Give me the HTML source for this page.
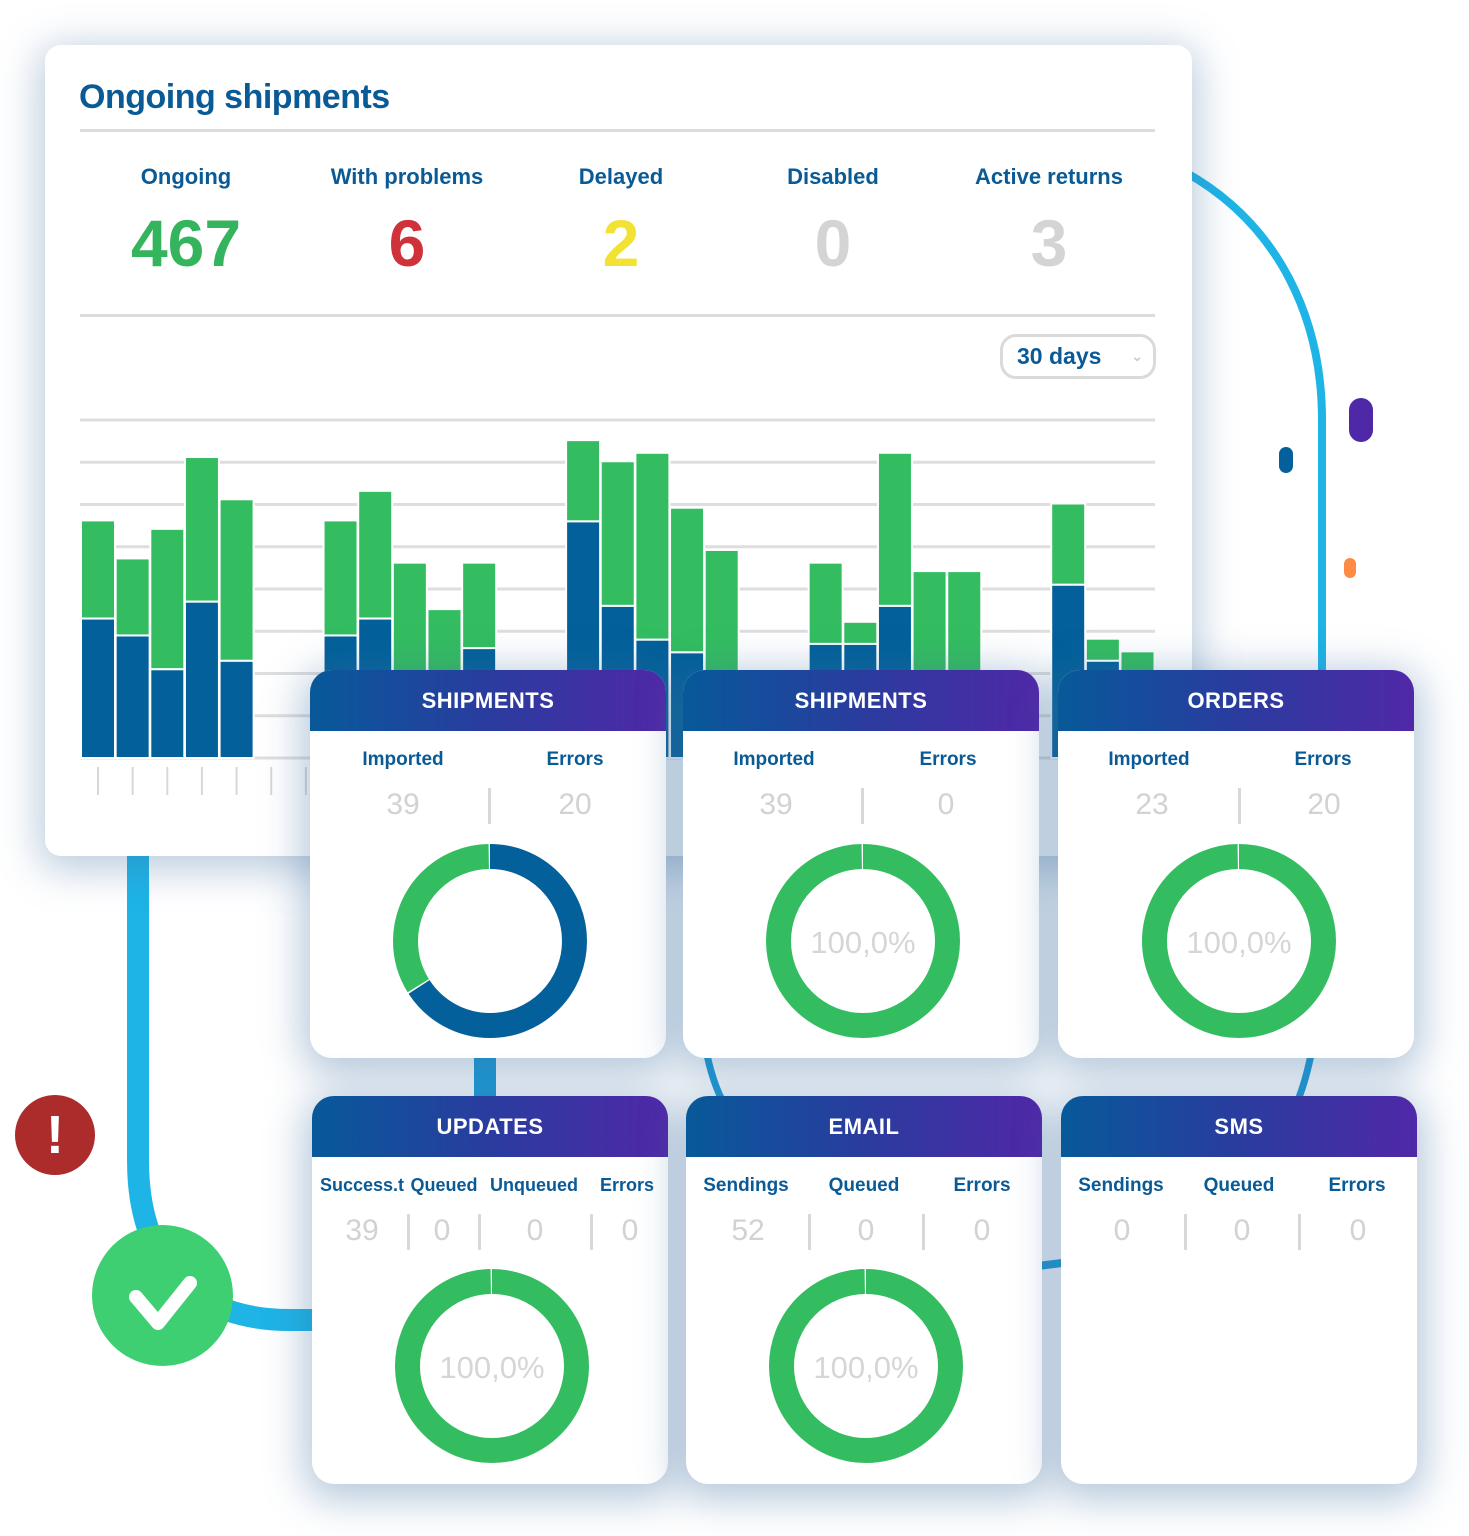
<!DOCTYPE html>
<html><head><meta charset="utf-8">
<style>
*{margin:0;padding:0;box-sizing:border-box}
body{width:1469px;height:1536px;background:#fff;position:relative;overflow:hidden;font-family:"Liberation Sans",sans-serif}
.abs{position:absolute}
.dash{left:45px;top:45px;width:1147px;height:811px;background:#fff;border-radius:16px;box-shadow:0 8px 40px 6px rgba(60,110,160,0.35)}
.title{left:79px;top:78px;font-size:34px;color:#0a5a96;font-weight:bold;letter-spacing:-0.5px}
.hr{height:3px;background:#dcdcdc}
.lab{font-size:22px;color:#0a5a96;text-align:center;width:220px;font-weight:bold}
.num{font-size:66px;font-weight:bold;text-align:center;width:220px}
.card{background:#fff;border-radius:22px;overflow:hidden;width:356px;height:388px;box-shadow:0 8px 40px 8px rgba(60,110,160,0.38)}
.hdr{height:61px;background:linear-gradient(90deg,#07599a,#2a3c9e 50%,#5028a8);color:#fff;font-size:22px;font-weight:bold;text-align:center;line-height:61px;letter-spacing:0.5px}
.cl{font-size:19px;color:#0a5a96;text-align:center;font-weight:bold}
.cn{font-size:30px;color:#d2d2d2;text-align:center}
.sep{width:3px;height:36px;background:#d8d8d8}
</style></head>
<body>
<svg class="abs" style="left:0;top:0" width="1469" height="1536">
<path d="M1185,172 C1280,225 1322,320 1322,420 L1322,680" fill="none" stroke="#1eb4e6" stroke-width="8"/>
<path d="M138,850 L138,1160 C138,1270 200,1320 290,1320 L320,1320" fill="none" stroke="#1eb4e6" stroke-width="22"/>
<rect x="474" y="1050" width="22" height="52" fill="#1a9ad6"/>
<path d="M706,1050 Q712,1080 722,1100" fill="none" stroke="#1a9ad6" stroke-width="7"/>
<path d="M1312,1050 Q1306,1080 1298,1100" fill="none" stroke="#1a9ad6" stroke-width="7"/>
<path d="M1038,1266 L1062,1263" fill="none" stroke="#1a9ad6" stroke-width="8"/>
<rect x="1349" y="398" width="24" height="44" rx="12" fill="#4e28a6"/>
<rect x="1279" y="447" width="14" height="26" rx="7" fill="#03609a"/>
<rect x="1344" y="558" width="12" height="20" rx="6" fill="#ff8a45"/>
</svg>
<div class="abs" style="left:15px;top:1095px;width:80px;height:80px;border-radius:50%;background:#ac2b2b;color:#fff;font-size:54px;font-weight:bold;text-align:center;line-height:80px">!</div>
<div class="abs" style="left:92px;top:1225px;width:141px;height:141px;border-radius:50%;background:#3ecf72">
<svg width="141" height="141"><path d="M44,72 L66,98 L98,58" fill="none" stroke="#fff" stroke-width="14" stroke-linecap="round" stroke-linejoin="round"/></svg></div>

<div class="abs dash"></div>
<div class="abs title">Ongoing shipments</div>
<div class="abs hr" style="left:80px;top:129px;width:1075px"></div>
<div class="abs lab" style="left:76px;top:164px">Ongoing</div>
<div class="abs num" style="left:76px;top:205px;color:#34b45c">467</div>
<div class="abs lab" style="left:297px;top:164px">With problems</div>
<div class="abs num" style="left:297px;top:205px;color:#d0323a">6</div>
<div class="abs lab" style="left:511px;top:164px">Delayed</div>
<div class="abs num" style="left:511px;top:205px;color:#f2e234">2</div>
<div class="abs lab" style="left:723px;top:164px">Disabled</div>
<div class="abs num" style="left:723px;top:205px;color:#d4d4d4">0</div>
<div class="abs lab" style="left:939px;top:164px">Active returns</div>
<div class="abs num" style="left:939px;top:205px;color:#d4d4d4">3</div>
<div class="abs hr" style="left:80px;top:314px;width:1075px"></div>
<div class="abs" style="left:1000px;top:334px;width:156px;height:45px;border:3px solid #dadada;border-radius:16px;font-size:23px;color:#0a5a96;font-weight:bold;line-height:39px;padding-left:14px">30 days<span style="position:absolute;right:10px;top:0;font-size:14px;color:#ccc">&#8964;</span></div>

<svg id="bars" class="abs" style="left:0;top:0" width="1200" height="860"></svg>

<script>
const slots=[0,1,2,3,4,7,8,9,10,11,14,15,16,17,18,21,22,23,24,25,28,29,30];
const blueVals=[33,29,21,37,23,29,33,15,12,26,56,36,28,25,10,27,27,36,10,10,41,23,10];
const totalVals=[56,47,54,71,61,56,63,46,35,46,75,70,72,59,49,46,32,72,44,44,60,28,25];
const gridTicks=[0,10,20,30,40,50,60,70,80];
const NS="http://www.w3.org/2000/svg";
const svg=document.getElementById('bars');
const base=758,unit=4.225;
function y(v){return base-v*unit;}
function x(s){return 82+s*34.65;}
gridTicks.forEach(t=>{
  const l=document.createElementNS(NS,'rect');
  
  
  l.setAttribute('x',80);l.setAttribute('y',y(t)-1.5);l.setAttribute('width',1075);l.setAttribute('height',3);l.setAttribute('fill','#dedede');
  svg.appendChild(l);
});
for(let s=0;s<=30;s++){
  const t=document.createElementNS(NS,'rect');
  
  
  t.setAttribute('x',x(s)+15);t.setAttribute('y',767);t.setAttribute('width',2);t.setAttribute('height',28);t.setAttribute('fill','#d8d8d8');
  svg.appendChild(t);
}
slots.forEach((s,i)=>{
  const bx=x(s);
  const g=document.createElementNS(NS,'rect');
  
  
  g.setAttribute('x',bx-1);g.setAttribute('y',y(totalVals[i])-1);g.setAttribute('width',34);g.setAttribute('height',y(blueVals[i])-y(totalVals[i])+1);
  g.setAttribute('fill','#33bd60');g.setAttribute('stroke','#fff');g.setAttribute('stroke-width','2');
  svg.appendChild(g);
  const b=document.createElementNS(NS,'rect');
  
  
  b.setAttribute('x',bx-1);b.setAttribute('y',y(blueVals[i]));b.setAttribute('width',34);b.setAttribute('height',base-y(blueVals[i]));
  b.setAttribute('fill','#03609a');b.setAttribute('stroke','#fff');b.setAttribute('stroke-width','2');
  svg.appendChild(b);
});
</script>

<!-- Cards -->
<div class="abs card" style="left:310px;top:670px">
 <div class="hdr">SHIPMENTS</div>
 <div class="abs cl" style="left:33px;top:79px;width:120px">Imported</div>
 <div class="abs cl" style="left:205px;top:79px;width:120px">Errors</div>
 <div class="abs cn" style="left:33px;top:118px;width:120px">39</div>
 <div class="abs cn" style="left:205px;top:118px;width:120px">20</div>
 <div class="abs sep" style="left:178px;top:118px"></div>
 <svg class="abs donut" style="left:82px;top:173px" width="196" height="196" data-vals="39,20"></svg>
</div>
<div class="abs card" style="left:683px;top:670px">
 <div class="hdr">SHIPMENTS</div>
 <div class="abs cl" style="left:31px;top:79px;width:120px">Imported</div>
 <div class="abs cl" style="left:205px;top:79px;width:120px">Errors</div>
 <div class="abs cn" style="left:33px;top:118px;width:120px">39</div>
 <div class="abs cn" style="left:203px;top:118px;width:120px">0</div>
 <div class="abs sep" style="left:178px;top:118px"></div>
 <svg class="abs donut" style="left:82px;top:173px" width="196" height="196" data-vals="39,0"></svg>
</div>
<div class="abs card" style="left:1058px;top:670px">
 <div class="hdr">ORDERS</div>
 <div class="abs cl" style="left:31px;top:79px;width:120px">Imported</div>
 <div class="abs cl" style="left:205px;top:79px;width:120px">Errors</div>
 <div class="abs cn" style="left:34px;top:118px;width:120px">23</div>
 <div class="abs cn" style="left:206px;top:118px;width:120px">20</div>
 <div class="abs sep" style="left:180px;top:118px"></div>
 <svg class="abs donut" style="left:83px;top:173px" width="196" height="196" data-vals="23,0"></svg>
</div>
<div class="abs card" style="left:312px;top:1096px">
 <div class="hdr">UPDATES</div>
 <div class="abs cl" style="left:6px;top:79px;width:88px;font-size:18px">Success.t</div>
 <div class="abs cl" style="left:94px;top:79px;width:76px;font-size:18px">Queued</div>
 <div class="abs cl" style="left:172px;top:79px;width:100px;font-size:18px">Unqueued</div>
 <div class="abs cl" style="left:280px;top:79px;width:70px;font-size:18px">Errors</div>
 <div class="abs cn" style="left:20px;top:118px;width:60px">39</div>
 <div class="abs cn" style="left:100px;top:118px;width:60px">0</div>
 <div class="abs cn" style="left:193px;top:118px;width:60px">0</div>
 <div class="abs cn" style="left:288px;top:118px;width:60px">0</div>
 <div class="abs sep" style="left:95px;top:118px"></div>
 <div class="abs sep" style="left:166px;top:118px"></div>
 <div class="abs sep" style="left:278px;top:118px"></div>
 <svg class="abs donut" style="left:82px;top:172px" width="196" height="196" data-vals="39,0"></svg>
</div>
<div class="abs card" style="left:686px;top:1096px">
 <div class="hdr">EMAIL</div>
 <div class="abs cl" style="left:10px;top:79px;width:100px">Sendings</div>
 <div class="abs cl" style="left:128px;top:79px;width:100px">Queued</div>
 <div class="abs cl" style="left:246px;top:79px;width:100px">Errors</div>
 <div class="abs cn" style="left:32px;top:118px;width:60px">52</div>
 <div class="abs cn" style="left:150px;top:118px;width:60px">0</div>
 <div class="abs cn" style="left:266px;top:118px;width:60px">0</div>
 <div class="abs sep" style="left:122px;top:118px"></div>
 <div class="abs sep" style="left:236px;top:118px"></div>
 <svg class="abs donut" style="left:82px;top:172px" width="196" height="196" data-vals="52,0"></svg>
</div>
<div class="abs card" style="left:1061px;top:1096px">
 <div class="hdr">SMS</div>
 <div class="abs cl" style="left:10px;top:79px;width:100px">Sendings</div>
 <div class="abs cl" style="left:128px;top:79px;width:100px">Queued</div>
 <div class="abs cl" style="left:246px;top:79px;width:100px">Errors</div>
 <div class="abs cn" style="left:31px;top:118px;width:60px">0</div>
 <div class="abs cn" style="left:151px;top:118px;width:60px">0</div>
 <div class="abs cn" style="left:267px;top:118px;width:60px">0</div>
 <div class="abs sep" style="left:123px;top:118px"></div>
 <div class="abs sep" style="left:237px;top:118px"></div>
</div>

<script>
document.querySelectorAll('svg.donut').forEach(d=>{
  const vals=d.getAttribute('data-vals').split(',').map(Number);
  const ok=vals[0],err=vals[1],tot=ok+err;
  const cx=98,cy=98,r=84.5;
  const C=2*Math.PI*r;
  const okFrac=ok/tot;
  function arc(frac,offFrac,col,name){
    const c=document.createElementNS("http://www.w3.org/2000/svg",'circle');
    
    
    c.setAttribute('cx',cx);c.setAttribute('cy',cy);c.setAttribute('r',r);
    c.setAttribute('fill','none');c.setAttribute('stroke',col);c.setAttribute('stroke-width',25);
    c.setAttribute('stroke-dasharray',(frac*C-1.5)+' '+C);
    c.setAttribute('stroke-dashoffset',-offFrac*C);
    c.setAttribute('transform','rotate(-90 98 98)');
    d.appendChild(c);
  }
  if(err>0){
    arc(okFrac,0,'#03609a','donut-imported');
    arc(1-okFrac,okFrac,'#33bd60','donut-errors');
  }else{
    arc(1,0,'#33bd60','donut-success');
    const t=document.createElementNS("http://www.w3.org/2000/svg",'text');
    
    
    t.setAttribute('x',98);t.setAttribute('y',110);t.setAttribute('text-anchor','middle');
    t.setAttribute('font-size','31');t.setAttribute('fill','#d6d6d6');t.setAttribute('font-family','Liberation Sans, sans-serif');
    t.textContent='100,0%';
    d.appendChild(t);
  }
});
</script>
</body></html>
